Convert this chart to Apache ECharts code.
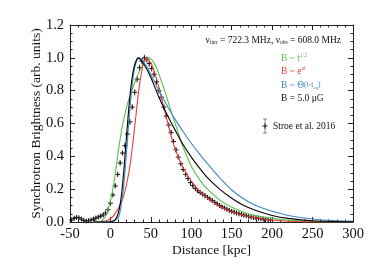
<!DOCTYPE html>
<html><head><meta charset="utf-8">
<script src="https://cdn.jsdelivr.net/npm/echarts@6/dist/echarts.min.js"></script>
<style>html,body{margin:0;padding:0;background:#fff}#c{width:374px;height:267px}</style>
</head><body><div id="c"></div>
<script>
// ---- data ----
const xTicks = [-50, 0, 50, 100, 150, 200, 250, 300];
const yTicks = [0.0, 0.2, 0.4, 0.6, 0.8, 1.0, 1.2];

const stroeX = [-48,-45,-42,-39,-36,-33,-30,-27,-24,-21,-18,-15,-12,-9,-6,-3,0,3,6,9,12,15,18,21,24,27,30,33,36,39,42,45,48,51,54,57,60,63,66,69,72,75,78,81,84,87,90,93,96,99,102,105,108,111,114,117,120,123,126,129,132,135,138,141,144,147,150,153,156,159,162,165,168,171,174,177,180,183,186,189,192,195,198];
const stroeY = [0.012,0.022,0.028,0.026,0.018,0.010,0.006,0.008,0.012,0.018,0.024,0.030,0.036,0.043,0.055,0.075,0.115,0.165,0.22,0.29,0.36,0.42,0.465,0.535,0.61,0.70,0.79,0.87,0.94,0.98,1.0,0.99,0.965,0.935,0.90,0.855,0.80,0.76,0.70,0.645,0.59,0.545,0.49,0.44,0.395,0.355,0.32,0.29,0.265,0.24,0.222,0.205,0.19,0.18,0.17,0.16,0.15,0.14,0.13,0.12,0.11,0.10,0.092,0.085,0.078,0.070,0.065,0.060,0.055,0.050,0.046,0.042,0.038,0.034,0.030,0.027,0.025,0.022,0.020,0.018,0.016,0.014,0.012];
const stroeErr = [0.01,0.01,0.01,0.01,0.01,0.01,0.01,0.01,0.01,0.01,0.01,0.01,0.01,0.01,0.01,0.01,0.012,0.012,0.014,0.014,0.015,0.015,0.016,0.016,0.018,0.018,0.02,0.02,0.02,0.02,0.02,0.02,0.02,0.02,0.02,0.02,0.018,0.018,0.018,0.018,0.016,0.016,0.016,0.016,0.015,0.015,0.015,0.015,0.014,0.014,0.014,0.014,0.013,0.013,0.013,0.013,0.012,0.012,0.012,0.012,0.012,0.012,0.011,0.011,0.011,0.011,0.011,0.011,0.01,0.01,0.01,0.01,0.01,0.01,0.01,0.01,0.01,0.01,0.01,0.01,0.01,0.01,0.01];

const greenX = [-20,-15,-10,-5,0,5,10,15,20,25,30,35,40,44,48,52,56,60,65,70,75,80,90,100,110,120,135,150,165,180,200,220,250,300];
const greenY = [0,0,0.01,0.045,0.13,0.26,0.44,0.59,0.70,0.78,0.85,0.91,0.96,0.99,1.0,0.985,0.95,0.90,0.83,0.755,0.675,0.60,0.455,0.34,0.26,0.20,0.135,0.09,0.06,0.04,0.022,0.011,0.003,0];

const redX = [-20,-12,-5,0,5,10,15,20,25,30,35,40,44.5,50,55,60,65,70,75,80,90,100,110,120,135,150,165,180,200,220,250,300];
const redY = [0,0,0.008,0.02,0.045,0.085,0.14,0.23,0.37,0.58,0.80,0.95,1.0,0.97,0.905,0.82,0.72,0.62,0.525,0.445,0.33,0.25,0.19,0.145,0.095,0.062,0.04,0.025,0.012,0.005,0.001,0];

const blueX = [-20,0,5,10,13,16,19,22,25,28,31,34,36,40,45,50,55,60,70,80,90,100,110,120,135,150,165,180,200,220,250,280,300];
const blueY = [0,0.001,0.006,0.03,0.09,0.20,0.37,0.56,0.74,0.88,0.96,0.995,1.0,0.98,0.945,0.90,0.85,0.80,0.71,0.625,0.55,0.48,0.415,0.355,0.27,0.195,0.14,0.10,0.065,0.04,0.018,0.007,0.004];

const blackX = [-20,-5,0,5,8,11,14,17,20,23,26,29,32,34,36,40,45,50,55,60,70,80,90,100,110,120,135,150,165,180,200,220,250,300];
const blackY = [0,0,0.002,0.01,0.03,0.08,0.18,0.34,0.53,0.71,0.85,0.94,0.985,1.0,0.995,0.97,0.93,0.88,0.82,0.76,0.655,0.56,0.47,0.395,0.33,0.27,0.20,0.145,0.10,0.07,0.04,0.022,0.008,0.001];

const C_GREEN = '#5cbf4e', C_RED = '#ea3b3b', C_BLUE = '#3f86c6', C_BLACK = '#000';
const FONT = '"Liberation Serif","DejaVu Serif",serif';

function pairs(xs, ys){ return xs.map((x,i)=>[x, ys[i]]); }

const axisCommon = {
  type: 'value',
  axisLine: {show: true, onZero: false, lineStyle: {color: '#222', width: 1}},
  axisTick: {show: true, inside: true, length: 5, lineStyle: {color: '#222'}},
  minorTick: {show: true, length: 2.5, lineStyle: {color: '#222'}},
  splitLine: {show: false},
  minorSplitLine: {show: false}
};

const chart = echarts.init(document.getElementById('c'), null, {renderer: 'canvas'});
const lineSeries = (name, xs, ys, color) => ({
  name, type: 'line', data: pairs(xs, ys), showSymbol: false, symbol: 'none',
  smooth: 0.25,
  lineStyle: {color, width: 1.1}, z: 3, animation: false
});

chart.setOption({
  animation: false,
  grid: {left: 70, right: 21, top: 25, bottom: 45},
  xAxis: [
    Object.assign({}, axisCommon, {
      position: 'bottom', min: xTicks[0], max: xTicks[xTicks.length-1], interval: 50,
      minorTick: Object.assign({}, axisCommon.minorTick, {splitNumber: 5}),
      axisLabel: {color: '#111', fontFamily: FONT, fontSize: 14.5, margin: 5},
      name: 'Distance [kpc]', nameLocation: 'middle', nameGap: 21, nameMoveOverlap: false,
      nameTextStyle: {color: '#111', fontFamily: FONT, fontSize: 13.5}
    }),
    Object.assign({}, axisCommon, {
      position: 'top', min: xTicks[0], max: xTicks[xTicks.length-1], interval: 50,
      minorTick: Object.assign({}, axisCommon.minorTick, {splitNumber: 5}),
      axisLabel: {show: false}
    })
  ],
  yAxis: [
    Object.assign({}, axisCommon, {
      position: 'left', min: yTicks[0], max: yTicks[yTicks.length-1], interval: 0.2,
      minorTick: Object.assign({}, axisCommon.minorTick, {splitNumber: 4}),
      axisLabel: {color: '#111', fontFamily: FONT, fontSize: 14.5, margin: 6, formatter: v => v.toFixed(1)},
      name: 'Synchrotron Brightness (arb. units)', nameLocation: 'middle', nameGap: 27, nameMoveOverlap: false,
      nameTextStyle: {color: '#111', fontFamily: FONT, fontSize: 13.5}
    }),
    Object.assign({}, axisCommon, {
      position: 'right', min: yTicks[0], max: yTicks[yTicks.length-1], interval: 0.2,
      minorTick: Object.assign({}, axisCommon.minorTick, {splitNumber: 4}),
      axisLabel: {show: false}
    })
  ],
  series: [
    {
      name: 'Stroe et al. 2016', type: 'custom', z: 2,
      data: stroeX.map((x,i)=>[x, stroeY[i], stroeErr[i]]),
      renderItem: function(params, api){
        const x = api.value(0), y = api.value(1), e = api.value(2);
        const p = api.coord([x, y]);
        const lo = api.coord([x, y - e]), hi = api.coord([x, y + e]);
        const h = 2.5;
        return {type: 'group', children: [
          {type: 'line', shape: {x1: p[0], y1: lo[1], x2: p[0], y2: hi[1]}, style: {stroke: '#8a8a8a', lineWidth: 1}},
          {type: 'line', shape: {x1: p[0]-h, y1: p[1], x2: p[0]+h, y2: p[1]}, style: {stroke: '#111', lineWidth: 1}},
          {type: 'line', shape: {x1: p[0], y1: p[1]-h, x2: p[0], y2: p[1]+h}, style: {stroke: '#111', lineWidth: 1}}
        ]};
      }
    },
    lineSeries('B ~ t^1/2', greenX, greenY, C_GREEN),
    lineSeries('B ~ e^at', redX, redY, C_RED),
    lineSeries('B ~ Theta', blueX, blueY, C_BLUE),
    lineSeries('B = 5.0 uG', blackX, blackY, C_BLACK)
  ],
  graphic: [
    {type: 'text', right: 374-341, top: 35, style: {
      text: '{n|ν}{s|intr}{n| = 722.3 MHz, ν}{s|obs}{n| = 608.0 MHz}',
      rich: {
        n: {fontFamily: FONT, fontSize: 9.5, fill: '#111', lineHeight: 11},
        s: {fontFamily: FONT, fontSize: 5.5, fill: '#111', lineHeight: 6, verticalAlign: 'bottom'}
      }}},
    {type: 'text', left: 281, top: 53, style: {
      text: '{n|B ~ t}{p|1/2}',
      rich: {
        n: {fontFamily: FONT, fontSize: 9.5, fill: C_GREEN, lineHeight: 11},
        p: {fontFamily: FONT, fontSize: 5.5, fill: C_GREEN, lineHeight: 6, verticalAlign: 'top'}
      }}},
    {type: 'text', left: 281, top: 66, style: {
      text: '{n|B ~ e}{p|at}',
      rich: {
        n: {fontFamily: FONT, fontSize: 9.5, fill: C_RED, lineHeight: 11},
        p: {fontFamily: FONT, fontSize: 5.5, fill: C_RED, lineHeight: 6, verticalAlign: 'top'}
      }}},
    {type: 'text', left: 281, top: 80, style: {
      text: '{n|B ~ Θ}{m|(t-t}{s|eq}{m|)}',
      rich: {
        n: {fontFamily: FONT, fontSize: 9.5, fill: C_BLUE, lineHeight: 11},
        m: {fontFamily: FONT, fontSize: 7.5, fill: C_BLUE, lineHeight: 11},
        s: {fontFamily: FONT, fontSize: 5, fill: C_BLUE, lineHeight: 6, verticalAlign: 'bottom'}
      }}},
    {type: 'text', left: 281, top: 93, style: {
      text: 'B = 5.0 μG', fontFamily: FONT, fontSize: 9.5, fill: '#111'}},
    {type: 'line', shape: {x1: 265, y1: 119, x2: 265, y2: 133}, style: {stroke: '#8a8a8a', lineWidth: 1}},
    {type: 'line', shape: {x1: 263, y1: 119, x2: 267, y2: 119}, style: {stroke: '#8a8a8a', lineWidth: 1}},
    {type: 'line', shape: {x1: 263, y1: 133, x2: 267, y2: 133}, style: {stroke: '#8a8a8a', lineWidth: 1}},
    {type: 'line', shape: {x1: 262.5, y1: 126, x2: 267.5, y2: 126}, style: {stroke: '#111', lineWidth: 1}},
    {type: 'line', shape: {x1: 265, y1: 123.5, x2: 265, y2: 128.5}, style: {stroke: '#111', lineWidth: 1}},
    {type: 'text', left: 273, top: 121, style: {
      text: 'Stroe et al. 2016', fontFamily: FONT, fontSize: 9.5, fill: '#111'}}
  ]
});
</script></body></html>
